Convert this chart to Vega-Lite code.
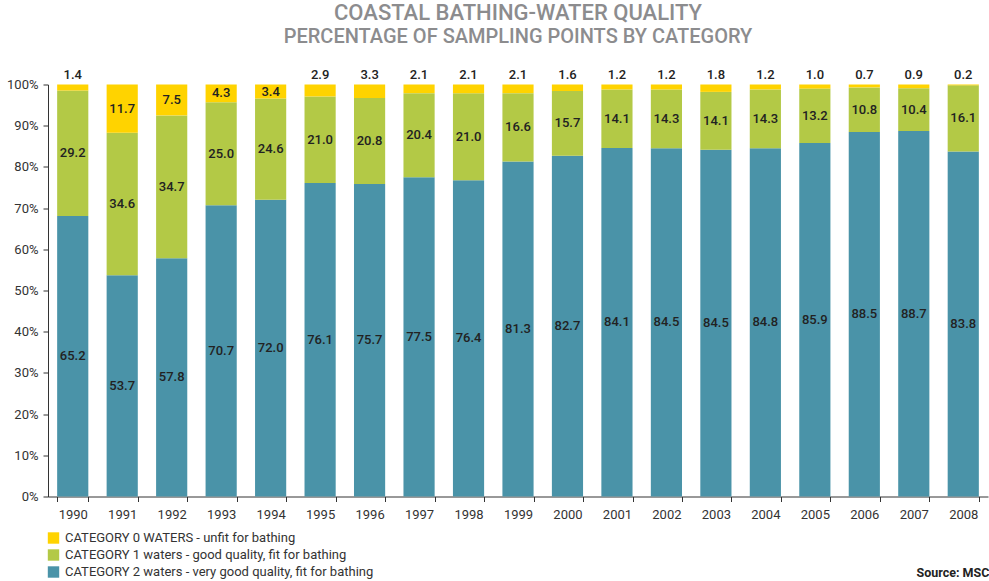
{
  "$schema": "https://vega.github.io/schema/vega-lite/v6.json",
  "width": 940,
  "height": 412,
  "autosize": {"type": "none"},
  "padding": {"left": 48, "top": 84.5, "right": 1, "bottom": 84.5},
  "background": "white",
  "config": {
    "view": {"stroke": null},
    "font": "Roboto",
    "axis": {"labelFont": "Roboto", "titleFont": "Roboto"},
    "legend": {"labelFont": "Roboto"}
  },
  "title": {
    "text": "COASTAL BATHING-WATER QUALITY",
    "subtitle": "PERCENTAGE OF SAMPLING POINTS BY CATEGORY",
    "font": "Roboto",
    "subtitleFont": "Roboto",
    "color": "#8c8c8e",
    "subtitleColor": "#8c8c8e",
    "fontSize": 22,
    "subtitleFontSize": 20,
    "fontWeight": 500,
    "subtitleFontWeight": 500,
    "anchor": "middle",
    "frame": "group",
    "offset": 21.5,
    "subtitlePadding": 2
  },
  "data": {
    "values": [
      {"year": "1990", "cat": "2", "value": 65.2}, {"year": "1990", "cat": "1", "value": 29.2}, {"year": "1990", "cat": "0", "value": 1.4},
      {"year": "1991", "cat": "2", "value": 53.7}, {"year": "1991", "cat": "1", "value": 34.6}, {"year": "1991", "cat": "0", "value": 11.7},
      {"year": "1992", "cat": "2", "value": 57.8}, {"year": "1992", "cat": "1", "value": 34.7}, {"year": "1992", "cat": "0", "value": 7.5},
      {"year": "1993", "cat": "2", "value": 70.7}, {"year": "1993", "cat": "1", "value": 25.0}, {"year": "1993", "cat": "0", "value": 4.3},
      {"year": "1994", "cat": "2", "value": 72.0}, {"year": "1994", "cat": "1", "value": 24.6}, {"year": "1994", "cat": "0", "value": 3.4},
      {"year": "1995", "cat": "2", "value": 76.1}, {"year": "1995", "cat": "1", "value": 21.0}, {"year": "1995", "cat": "0", "value": 2.9},
      {"year": "1996", "cat": "2", "value": 75.7}, {"year": "1996", "cat": "1", "value": 20.8}, {"year": "1996", "cat": "0", "value": 3.3},
      {"year": "1997", "cat": "2", "value": 77.5}, {"year": "1997", "cat": "1", "value": 20.4}, {"year": "1997", "cat": "0", "value": 2.1},
      {"year": "1998", "cat": "2", "value": 76.4}, {"year": "1998", "cat": "1", "value": 21.0}, {"year": "1998", "cat": "0", "value": 2.1},
      {"year": "1999", "cat": "2", "value": 81.3}, {"year": "1999", "cat": "1", "value": 16.6}, {"year": "1999", "cat": "0", "value": 2.1},
      {"year": "2000", "cat": "2", "value": 82.7}, {"year": "2000", "cat": "1", "value": 15.7}, {"year": "2000", "cat": "0", "value": 1.6},
      {"year": "2001", "cat": "2", "value": 84.1}, {"year": "2001", "cat": "1", "value": 14.1}, {"year": "2001", "cat": "0", "value": 1.2},
      {"year": "2002", "cat": "2", "value": 84.5}, {"year": "2002", "cat": "1", "value": 14.3}, {"year": "2002", "cat": "0", "value": 1.2},
      {"year": "2003", "cat": "2", "value": 84.5}, {"year": "2003", "cat": "1", "value": 14.1}, {"year": "2003", "cat": "0", "value": 1.8},
      {"year": "2004", "cat": "2", "value": 84.8}, {"year": "2004", "cat": "1", "value": 14.3}, {"year": "2004", "cat": "0", "value": 1.2},
      {"year": "2005", "cat": "2", "value": 85.9}, {"year": "2005", "cat": "1", "value": 13.2}, {"year": "2005", "cat": "0", "value": 1.0},
      {"year": "2006", "cat": "2", "value": 88.5}, {"year": "2006", "cat": "1", "value": 10.8}, {"year": "2006", "cat": "0", "value": 0.7},
      {"year": "2007", "cat": "2", "value": 88.7}, {"year": "2007", "cat": "1", "value": 10.4}, {"year": "2007", "cat": "0", "value": 0.9},
      {"year": "2008", "cat": "2", "value": 83.8}, {"year": "2008", "cat": "1", "value": 16.1}, {"year": "2008", "cat": "0", "value": 0.2}
    ]
  },
  "transform": [
    {"stack": "value", "groupby": ["year"], "sort": [{"field": "cat", "order": "descending"}], "offset": "normalize", "as": ["y0", "y1"]},
    {"calculate": "(datum.y0 + datum.y1) / 2", "as": "mid"}
  ],
  "encoding": {
    "x": {
      "field": "year",
      "type": "ordinal",
      "scale": {"paddingInner": 0.37, "paddingOuter": 0.185},
      "axis": {
        "title": "Source: MSC",
        "titleAnchor": "end",
        "titleAlign": "left",
        "titleX": 868,
        "titlePadding": 45,
        "titleFontSize": 12.5,
        "titleFontWeight": "bold",
        "titleColor": "#222",
        "labelAngle": 0,
        "labelFontSize": 13,
        "labelColor": "#333",
        "labelPadding": 7,
        "tickBand": "extent",
        "tickSize": 5,
        "tickColor": "#333",
        "domainColor": "#333",
        "grid": false
      }
    }
  },
  "layer": [
    {
      "mark": {"type": "bar"},
      "encoding": {
        "y": {
          "field": "y0",
          "type": "quantitative",
          "scale": {"domain": [0, 1], "nice": false},
          "axis": {
            "title": null,
            "values": [0, 0.1, 0.2, 0.3, 0.4, 0.5, 0.6, 0.7, 0.8, 0.9, 1],
            "format": ".0%",
            "labelFontSize": 13,
            "labelColor": "#333",
            "labelPadding": 5,
            "tickSize": 5,
            "tickColor": "#333",
            "domainColor": "#333",
            "grid": false
          }
        },
        "y2": {"field": "y1"},
        "fill": {
          "field": "cat",
          "type": "nominal",
          "scale": {"domain": ["0", "1", "2"], "range": ["#FFD300", "#B3C946", "#4A93A8"]},
          "legend": {
            "title": null,
            "orient": "none",
            "legendX": -1,
            "legendY": 447,
            "direction": "vertical",
            "symbolType": "square",
            "symbolSize": 130,
            "symbolStrokeWidth": 0,
            "labelFontSize": 13,
            "labelColor": "#333",
            "labelOffset": 5,
            "rowPadding": 3,
            "labelLimit": 500,
            "labelExpr": "datum.value == '0' ? 'CATEGORY 0 WATERS - unfit for bathing' : datum.value == '1' ? 'CATEGORY 1 waters - good quality, fit for bathing' : 'CATEGORY 2 waters - very good quality, fit for bathing'"
          }
        }
      }
    },
    {
      "transform": [{"filter": "datum.value >= 3.35"}],
      "mark": {"type": "text", "fontSize": 13, "fontWeight": 500, "color": "#222", "baseline": "middle"},
      "encoding": {
        "y": {"field": "mid", "type": "quantitative"},
        "text": {"field": "value", "type": "quantitative", "format": ".1f"}
      }
    },
    {
      "transform": [{"filter": "datum.value < 3.35"}],
      "mark": {"type": "text", "fontSize": 13, "fontWeight": 500, "color": "#222", "baseline": "middle", "dy": -9.5},
      "encoding": {
        "y": {"field": "y1", "type": "quantitative"},
        "text": {"field": "value", "type": "quantitative", "format": ".1f"}
      }
    }
  ]
}
